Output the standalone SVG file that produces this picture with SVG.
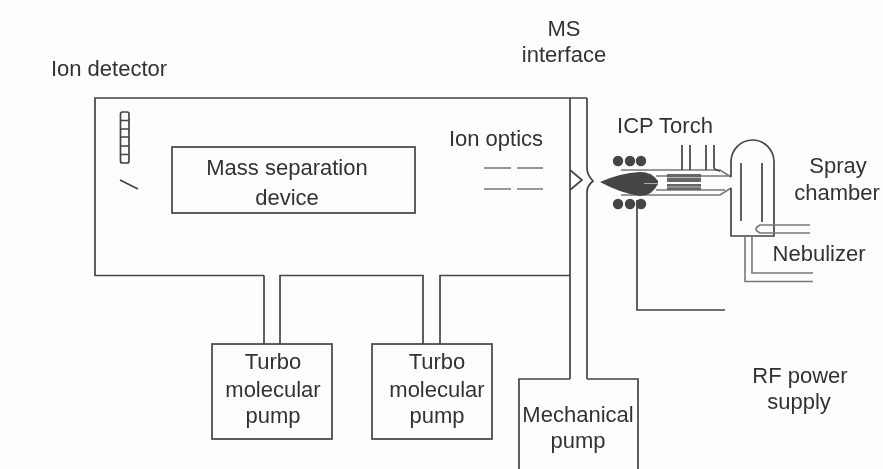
<svg xmlns="http://www.w3.org/2000/svg" width="883" height="469" viewBox="0 0 883 469">
<defs><filter id="soft" x="0" y="0" width="100%" height="100%"><feGaussianBlur stdDeviation="0.55"/></filter></defs>
<style>
text{font-family:"Liberation Sans",Arial,sans-serif;font-size:22px;fill:#333;text-anchor:middle}
.l{fill:none;stroke:#444;stroke-width:1.7}
.t{fill:none;stroke:#777;stroke-width:1.6}
.d{fill:#444}
</style>
<rect width="883" height="469" fill="#fdfdfd"/>
<g filter="url(#soft)">
<g id="connectors">
<path class="l" d="M264 275.500V344M280 344V275.500H423V344M440 344V275.500H570M570 98V379M587 98V168Q587 175 593 181Q587 186 587 192V379"/>
<path class="l" d="M637 200V310H725"/>
</g>
<g id="main-chamber"><path class="l" d="M264 275.500H95V98H587"/></g>
<g id="ion-detector">
<rect class="l" x="120.500" y="112" width="8.500" height="51" rx="2"/>
<path class="l" d="M120.500 120.500H129M120.500 129H129M120.500 137H129M120.500 146H129M120.500 154.500H129M120 180L138 189"/>
<text x="109" y="76">Ion detector</text>
</g>
<g id="mass-separation"><rect class="l" x="172" y="147" width="243" height="66"/><text x="287" y="175">Mass separation</text><text x="287" y="205">device</text></g>
<g id="ion-optics"><path class="t" d="M484 168H511M517 168H543M484 189H511M517 189H543"/><text x="496" y="146">Ion optics</text></g>
<g id="ms-interface"><path class="l" d="M570 170L582 180L570 190"/><text x="564" y="36">MS</text><text x="564" y="62">interface</text></g>
<g id="torch">
<path class="t" d="M621 170H720L731 177M621 195H720L731 188M656 176H731M656 190H725"/>
<path d="M667 174H701V182H667ZM667 184H701V190H667Z" fill="#666"/>
<path d="M667 177.500H701M667 187H701" stroke="#bbb" stroke-width="1" fill="none"/>
<path class="l" d="M682 145V170M690 145V170M706 145V170M714 145V167Q714 170 720 171"/>
<path class="d" d="M600 182Q620 173 640 172Q652 172 658 181V184Q652 196 640 196Q620 193 600 182Z"/>
<path d="M644 183.500H658" stroke="#aaa" stroke-width="1" fill="none"/>
<g class="d"><circle cx="618" cy="161" r="5.200"/><circle cx="630" cy="161" r="5.200"/><circle cx="641" cy="161" r="5.200"/><circle cx="618" cy="204" r="5.200"/><circle cx="630" cy="204" r="5.200"/><circle cx="641" cy="204" r="5.200"/></g>
<text x="665" y="133">ICP Torch</text>
</g>
<g id="spray-chamber">
<path class="l" d="M731 177V162A21.500 22 0 0 1 774 162V236H731V188M741 163V221M762 163V222"/>
<path class="t" d="M810 225H760Q752 229 760 233H810M745 236V281.500H813M752 236V273H813"/>
<text x="838" y="173">Spray</text><text x="837" y="200">chamber</text>
<text x="819" y="261">Nebulizer</text>
</g>
<g id="rf"><text x="800" y="383">RF power</text><text x="799" y="409">supply</text></g>
<g id="pump-1"><rect class="l" x="212" y="344" width="120" height="95"/><text x="273" y="369">Turbo</text><text x="273" y="397">molecular</text><text x="273" y="423">pump</text></g>
<g id="pump-2"><rect class="l" x="372" y="344" width="120" height="95"/><text x="437" y="369">Turbo</text><text x="437" y="397">molecular</text><text x="437" y="423">pump</text></g>
<g id="mechanical-pump"><path class="l" d="M519 469V379H570M587 379H638V469"/><text x="578" y="422">Mechanical</text><text x="578" y="448">pump</text></g>
</g>
</svg>
